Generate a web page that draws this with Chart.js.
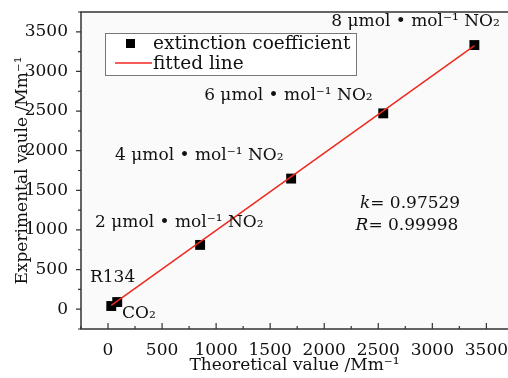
<!DOCTYPE html>
<html>
<head>
<meta charset="utf-8">
<script src="https://cdn.jsdelivr.net/npm/chart.js@4.4.0/dist/chart.umd.min.js"></script>
<style>
  html, body { margin: 0; padding: 0; background: #fff; }
  #wrap { width: 508px; height: 378px; }
</style>
</head>
<body>
<div id="wrap"><canvas id="myChart"></canvas></div>
<script>
// measured points
const theoretical = [30, 85, 852, 1694, 2546, 3389];
const experimental = [40, 90, 811, 1648, 2471, 3333];
// fitted line ends
const fitX = [30, 3390];
const fitY = [49, 3326];

const xTicks = [0, 500, 1000, 1500, 2000, 2500, 3000, 3500];
const yTicks = [0, 500, 1000, 1500, 2000, 2500, 3000, 3500];

// text notes: [text, x, y, italic prefix]
const notes = [
  ["8 μmol • mol⁻¹ NO₂", 2065, 3625, ""],
  ["6 μmol • mol⁻¹ NO₂", 889, 2700, ""],
  ["4 μmol • mol⁻¹ NO₂", 65, 1940, ""],
  ["2 μmol • mol⁻¹ NO₂", -120, 1090, ""],
  ["R134", -167, 393, ""],
  ["CO₂", 130, -50, ""],
  ["= 0.97529", 2330, 1330, "k"],
  ["= 0.99998", 2290, 1050, "R"],
];

Chart.defaults.font.family = "DejaVu Serif";
Chart.defaults.color = "#111";

const FONT = "DejaVu Serif";

const decor = {
  id: "decor",
  beforeDraw(chart) {
    const { ctx, chartArea: a } = chart;
    ctx.save();
    ctx.fillStyle = "#fafafa";
    ctx.fillRect(a.left, a.top, a.right - a.left, a.bottom - a.top);
    ctx.restore();
  },
  afterDraw(chart) {
    const { ctx, chartArea: a, scales } = chart;
    const sx = scales.x, sy = scales.y;
    ctx.save();
    // frame: left, top, bottom
    ctx.strokeStyle = "#333";
    ctx.lineWidth = 1.5;
    ctx.beginPath();
    ctx.moveTo(a.right, a.top);
    ctx.lineTo(a.left, a.top);
    ctx.lineTo(a.left, a.bottom);
    ctx.lineTo(a.right, a.bottom);
    ctx.stroke();

    // ticks
    ctx.lineWidth = 1.2;
    ctx.beginPath();
    for (let v = -250; v <= 3750; v += 250) {
      const py = sy.getPixelForValue(v);
      if (py < a.top || py > a.bottom) continue;
      const len = v % 500 === 0 ? 5 : 3;
      ctx.moveTo(a.left, py);
      ctx.lineTo(a.left - len, py);
    }
    for (let v = -250; v <= 3700; v += 250) {
      const px = sx.getPixelForValue(v);
      if (px < a.left || px > a.right) continue;
      const len = v % 500 === 0 ? 6 : 3;
      ctx.moveTo(px, a.bottom);
      ctx.lineTo(px, a.bottom - len);
    }
    ctx.stroke();

    // legend
    const ds = chart.data.datasets;
    ctx.fillStyle = "#fff";
    ctx.fillRect(105, 33, 251, 42);
    ctx.strokeStyle = "#777";
    ctx.lineWidth = 1;
    ctx.strokeRect(105.5, 33.5, 251, 42);
    ctx.fillStyle = "#000";
    ctx.fillRect(126, 39, 9, 9);
    ctx.strokeStyle = ds[1].borderColor;
    ctx.lineWidth = 1.5;
    ctx.beginPath();
    ctx.moveTo(115, 63);
    ctx.lineTo(152, 63);
    ctx.stroke();
    ctx.fillStyle = "#111";
    ctx.font = "18.5px " + FONT;
    ctx.textBaseline = "middle";
    ctx.textAlign = "left";
    ctx.fillText(ds[0].label, 153, 44);
    ctx.fillText(ds[1].label, 153, 64);

    // notes
    notes.forEach(([txt, x, y, it]) => {
      let px = sx.getPixelForValue(x);
      const py = sy.getPixelForValue(y);
      if (it) {
        ctx.font = "italic 17px " + FONT;
        ctx.fillText(it, px, py);
        px += ctx.measureText(it).width;
      }
      ctx.font = "17px " + FONT;
      ctx.fillText(txt, px, py);
    });
    ctx.restore();
  },
};

new Chart(document.getElementById("myChart"), {
  type: "scatter",
  data: {
    datasets: [
      {
        label: "extinction coefficient",
        data: theoretical.map((x, i) => ({ x: x, y: experimental[i] })),
        pointStyle: "rect",
        pointRadius: 7,
        pointHoverRadius: 7,
        backgroundColor: "#000",
        borderColor: "#000",
        borderWidth: 0,
        order: 1,
      },
      {
        label: "fitted line",
        type: "line",
        data: fitX.map((x, i) => ({ x: x, y: fitY[i] })),
        borderColor: "#f0281e",
        borderWidth: 1.5,
        pointRadius: 0,
        showLine: true,
        fill: false,
        order: 0,
      },
    ],
  },
  options: {
    responsive: true,
    maintainAspectRatio: false,
    animation: false,
    layout: { autoPadding: false, padding: { top: 12, right: 0, left: 0, bottom: 0 } },
    plugins: {
      legend: { display: false },
      tooltip: { enabled: false },
    },
    scales: {
      x: {
        type: "linear",
        min: -250,
        max: 3700,
        grid: { display: false },
        border: { display: false },
        afterBuildTicks: (s) => { s.ticks = xTicks.map((v) => ({ value: v })); },
        afterFit: (s) => {
          s.height = 49;
          s.paddingLeft = 0;
          s.paddingRight = 0;
        },
        ticks: {
          font: { size: 17 },
          padding: 3,
          maxRotation: 0,
          autoSkip: false,
          callback: (v) => String(v),
        },
        title: {
          display: true,
          text: "Theoretical value /Mm⁻¹",
          font: { size: 17 },
          padding: { top: 0, bottom: 2 },
        },
      },
      y: {
        type: "linear",
        min: -250,
        max: 3750,
        grid: { display: false },
        border: { display: false },
        afterBuildTicks: (s) => { s.ticks = yTicks.map((v) => ({ value: v })); },
        afterFit: (s) => {
          s.width = 81;
          s.paddingTop = 0;
          s.paddingBottom = 0;
        },
        ticks: {
          font: { size: 17 },
          padding: 5,
          autoSkip: false,
          callback: (v) => String(v),
        },
        title: {
          display: true,
          text: "Experimental vaule /Mm⁻¹",
          font: { size: 17 },
          padding: { top: 12, bottom: 0 },
        },
      },
    },
  },
  plugins: [decor],
});
</script>
</body>
</html>
